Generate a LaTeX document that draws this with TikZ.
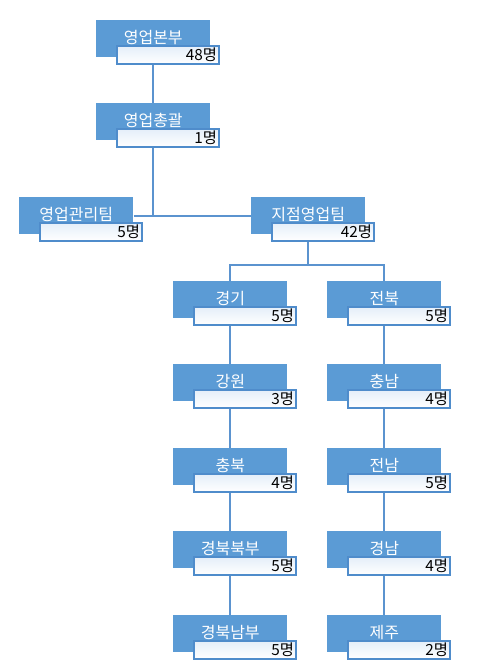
\documentclass[tikz,border=0pt]{standalone}
\usepackage{fontspec}
\usepackage{tikz}
\usetikzlibrary{backgrounds}
\newfontfamily\kr{Noto Sans CJK KR}
\definecolor{unitblue}{HTML}{5B9BD5}
\definecolor{edgeblue}{HTML}{4F8CCB}
\definecolor{paleblue}{HTML}{E4EEF9}
\definecolor{linkblue}{HTML}{5B93CF}
\tikzset{
  unitbox/.style={fill=unitblue,text=white,anchor=north west,inner sep=0pt,
    minimum width=85.5pt,minimum height=27.75pt,text depth=3.5pt,
    font=\kr\fontsize{12}{14}\selectfont},
  countbox/.style={draw=edgeblue,line width=1.2pt,top color=paleblue,bottom color=white,
    anchor=north east,align=right,text width=74pt,inner xsep=1.25pt,inner ysep=0pt,
    minimum height=13.5pt,font=\kr\fontsize{11.5}{13}\selectfont},
  orgline/.style={draw=linkblue,line width=1.5pt}
}

\begin{document}
\begin{tikzpicture}[x=0.75pt,y=-0.75pt]
\useasboundingbox (0,0) rectangle (487,670);
% head office
\node[unitbox] (bonbu) at (96,20) {영업본부};
\node[countbox] (bonbun) at ([xshift=6.75pt,yshift=-18.75pt]bonbu.north east) {48명};
\node[unitbox] (chonggwal) at (96,103) {영업총괄};
\node[countbox] (chonggwaln) at ([xshift=6.75pt,yshift=-18.75pt]chonggwal.north east) {1명};
% teams
\node[unitbox] (gwanri) at (19,197) {영업관리팀};
\node[countbox] (gwanrin) at ([xshift=6.75pt,yshift=-18.75pt]gwanri.north east) {5명};
\node[unitbox] (jijum) at (251,197) {지점영업팀};
\node[countbox] (jijumn) at ([xshift=6.75pt,yshift=-18.75pt]jijum.north east) {42명};
% branches, left column
\node[unitbox] (gyeonggi) at (173,281) {경기};
\node[countbox] (gyeonggin) at ([xshift=6.75pt,yshift=-18.75pt]gyeonggi.north east) {5명};
\node[unitbox] (gangwon) at (173,364) {강원};
\node[countbox] (gangwonn) at ([xshift=6.75pt,yshift=-18.75pt]gangwon.north east) {3명};
\node[unitbox] (chungbuk) at (173,448) {충북};
\node[countbox] (chungbukn) at ([xshift=6.75pt,yshift=-18.75pt]chungbuk.north east) {4명};
\node[unitbox] (gbbukbu) at (173,531) {경북북부};
\node[countbox] (gbbukbun) at ([xshift=6.75pt,yshift=-18.75pt]gbbukbu.north east) {5명};
\node[unitbox] (gbnambu) at (173,615) {경북남부};
\node[countbox] (gbnambun) at ([xshift=6.75pt,yshift=-18.75pt]gbnambu.north east) {5명};
% branches, right column
\node[unitbox] (jeonbuk) at (327,281) {전북};
\node[countbox] (jeonbukn) at ([xshift=6.75pt,yshift=-18.75pt]jeonbuk.north east) {5명};
\node[unitbox] (chungnam) at (327,364) {충남};
\node[countbox] (chungnamn) at ([xshift=6.75pt,yshift=-18.75pt]chungnam.north east) {4명};
\node[unitbox] (jeonnam) at (327,448) {전남};
\node[countbox] (jeonnamn) at ([xshift=6.75pt,yshift=-18.75pt]jeonnam.north east) {5명};
\node[unitbox] (gyeongnam) at (327,531) {경남};
\node[countbox] (gyeongnamn) at ([xshift=6.75pt,yshift=-18.75pt]gyeongnam.north east) {4명};
\node[unitbox] (jeju) at (327,615) {제주};
\node[countbox] (jejun) at ([xshift=6.75pt,yshift=-18.75pt]jeju.north east) {2명};
% connectors
\begin{scope}[on background layer]
\coordinate (split) at (308,265);
\draw[orgline] (bonbu) -- (chonggwal);
\draw[orgline] (chonggwal) -- (chonggwal |- gwanri);
\draw[orgline] (gwanri) -- (jijum);
\draw[orgline] (jijum) -- (jijum |- split);
\draw[orgline] (gyeonggi) |- (split) -| (jeonbuk);
\draw[orgline] (gyeonggi) -- (gangwon) -- (chungbuk) -- (gbbukbu) -- (gbnambu);
\draw[orgline] (jeonbuk) -- (chungnam) -- (jeonnam) -- (gyeongnam) -- (jeju);
\end{scope}
\end{tikzpicture}
\end{document}
